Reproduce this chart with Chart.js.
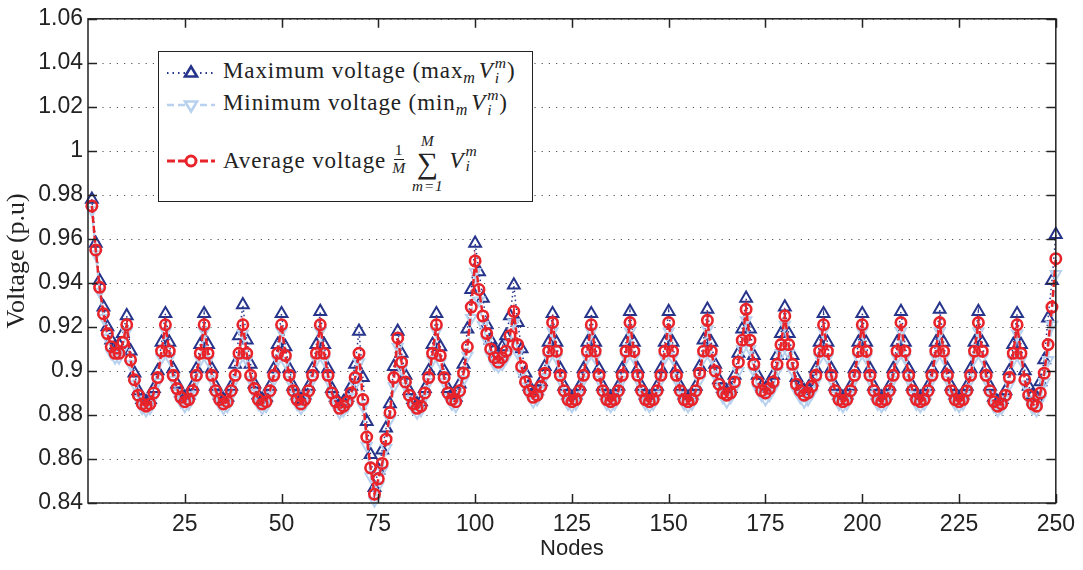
<!DOCTYPE html>
<html>
<head>
<meta charset="utf-8">
<script src="https://cdn.jsdelivr.net/npm/chart.js@4.4.1/dist/chart.umd.min.js"></script>
<style>
  html, body { margin: 0; padding: 0; background: #fff; }
  #wrap { position: relative; width: 1083px; height: 570px; overflow: hidden; }
  #c { position: absolute; left: 0; top: 0; }
  #legend {
    position: absolute; left: 158px; top: 51px; width: 373px; height: 149px;
    border: 1.5px solid #222; background: #fff;
    font-family: "Liberation Serif", "DejaVu Serif", serif; font-size: 23px; color: #222; letter-spacing: 0.9px;
  }
  .row { position: absolute; left: 6px; height: 30px; display: flex; align-items: center; white-space: nowrap; }
  .row svg { flex: none; margin-right: 6px; }
  .ss { display: inline-flex; flex-direction: column; vertical-align: middle; font-size: 0.68em; line-height: 0.95; font-style: italic; margin-left: 1px; position: relative; top: -2px; }
  .sub { font-size: 0.7em; font-style: italic; position: relative; top: 5px; margin-right: 3px; }
  .frac { display: inline-flex; flex-direction: column; align-items: center; vertical-align: middle; font-size: 0.68em; line-height: 1.05; margin: 0 6px 0 6px; position: relative; top: -2px;}
  .frac .num { border-bottom: 1px solid #222; padding: 0 1px; }
  .sum { display: inline-flex; flex-direction: column; align-items: center; vertical-align: middle; line-height: 1; margin-right: 6px; position: relative; top: 2px;}
  .sum .lim { font-size: 0.66em; font-style: italic; }
  .sum .sig { font-size: 1.3em; line-height: 1; }
  i { font-style: italic; }
</style>
</head>
<body>
<div id="wrap">
  <canvas id="c" width="1083" height="570"></canvas>
  <div id="legend">
    <div class="row" style="top:6px">
      <svg width="52" height="30"><line x1="2" y1="15" x2="50" y2="15" stroke="#27348b" stroke-width="2.2" stroke-dasharray="1.5,4"/><polygon points="26,8.5 32,18.5 20,18.5" fill="#fff" stroke="#27348b" stroke-width="2.6"/></svg>
      <span>Maximum voltage (max<span class="sub">m</span><i>V</i><span class="ss"><span>m</span><span>i</span></span>)</span>
    </div>
    <div class="row" style="top:38px">
      <svg width="52" height="30"><line x1="2" y1="15" x2="50" y2="15" stroke="#b7d1ee" stroke-width="2.5" stroke-dasharray="7,4"/><polygon points="26,21.5 32,11.5 20,11.5" fill="#fff" stroke="#b7d1ee" stroke-width="2.6"/></svg>
      <span>Minimum voltage (min<span class="sub">m</span><i>V</i><span class="ss"><span>m</span><span>i</span></span>)</span>
    </div>
    <div class="row" style="top:94px">
      <svg width="52" height="30"><line x1="2" y1="15" x2="50" y2="15" stroke="#e8232a" stroke-width="3" stroke-dasharray="8,3"/><circle cx="26" cy="15" r="5" fill="#fff" stroke="#e8232a" stroke-width="3"/></svg>
      <span style="display:inline-flex;align-items:center">Average voltage <span class="frac"><span class="num">1</span><i>M</i></span><span class="sum"><span class="lim">M</span><span class="sig">&#8721;</span><span class="lim">m=1</span></span><i>V</i><span class="ss"><span>m</span><span>i</span></span></span>
    </div>
  </div>
</div>
<script>
// ---- data ----
const nodes = Array.from({length: 250}, (_, i) => i + 1);
const xTicks = [25, 50, 75, 100, 125, 150, 175, 200, 225, 250];
const yTicks = [0.84, 0.86, 0.88, 0.90, 0.92, 0.94, 0.96, 0.98, 1.00, 1.02, 1.04, 1.06];
const yTickLabels = ['0.84','0.86','0.88','0.9','0.92','0.94','0.96','0.98','1','1.02','1.04','1.06'];

const avgV = [
 0.975,0.955,0.938,0.926,0.917,0.911,0.908,0.908,0.913,0.921,
 0.905,0.896,0.889,0.885,0.884,0.885,0.890,0.897,0.909,0.921,
 0.909,0.898,0.892,0.888,0.886,0.887,0.891,0.898,0.908,0.921,
 0.908,0.898,0.891,0.887,0.885,0.886,0.891,0.898,0.908,0.921,
 0.908,0.898,0.892,0.887,0.885,0.886,0.891,0.898,0.908,0.921,
 0.907,0.898,0.891,0.887,0.885,0.887,0.891,0.898,0.908,0.921,
 0.908,0.898,0.890,0.886,0.883,0.884,0.886,0.890,0.897,0.908,
 0.887,0.870,0.856,0.844,0.851,0.858,0.869,0.881,0.897,0.915,
 0.904,0.895,0.889,0.885,0.883,0.884,0.890,0.897,0.908,0.921,
 0.907,0.897,0.890,0.887,0.886,0.891,0.899,0.911,0.929,0.950,
 0.937,0.925,0.917,0.910,0.906,0.904,0.906,0.909,0.916,0.927,
 0.912,0.902,0.895,0.891,0.888,0.889,0.893,0.899,0.909,0.922,
 0.909,0.898,0.891,0.887,0.886,0.887,0.891,0.898,0.909,0.921,
 0.909,0.898,0.891,0.887,0.886,0.887,0.891,0.898,0.909,0.922,
 0.909,0.898,0.891,0.887,0.886,0.887,0.891,0.898,0.909,0.922,
 0.909,0.898,0.891,0.887,0.886,0.887,0.891,0.899,0.909,0.923,
 0.909,0.900,0.894,0.890,0.889,0.890,0.895,0.904,0.914,0.928,
 0.914,0.903,0.895,0.891,0.890,0.892,0.895,0.903,0.912,0.925,
 0.912,0.903,0.894,0.891,0.889,0.890,0.893,0.898,0.909,0.921,
 0.909,0.898,0.891,0.887,0.886,0.887,0.891,0.898,0.909,0.921,
 0.909,0.898,0.891,0.887,0.886,0.887,0.891,0.898,0.909,0.922,
 0.909,0.898,0.891,0.887,0.886,0.887,0.891,0.898,0.909,0.922,
 0.909,0.898,0.891,0.887,0.886,0.887,0.891,0.898,0.909,0.922,
 0.909,0.898,0.891,0.886,0.884,0.885,0.889,0.897,0.908,0.921,
 0.908,0.896,0.889,0.885,0.884,0.890,0.899,0.912,0.929,0.951
];
const maxV = [
 0.978,0.958,0.941,0.929,0.920,0.914,0.911,0.912,0.917,0.925,
 0.909,0.899,0.891,0.887,0.886,0.887,0.892,0.900,0.913,0.926,
 0.913,0.901,0.894,0.890,0.888,0.889,0.893,0.901,0.912,0.926,
 0.912,0.901,0.893,0.889,0.887,0.888,0.893,0.903,0.916,0.930,
 0.914,0.903,0.894,0.889,0.887,0.888,0.893,0.901,0.912,0.926,
 0.911,0.901,0.893,0.889,0.887,0.889,0.893,0.901,0.912,0.927,
 0.912,0.901,0.892,0.888,0.885,0.886,0.888,0.893,0.903,0.918,
 0.897,0.877,0.862,0.847,0.855,0.864,0.874,0.885,0.902,0.918,
 0.908,0.898,0.891,0.887,0.885,0.886,0.892,0.900,0.912,0.926,
 0.911,0.900,0.892,0.889,0.888,0.894,0.903,0.919,0.937,0.958,
 0.945,0.933,0.921,0.914,0.910,0.908,0.911,0.916,0.925,0.939,
 0.922,0.910,0.899,0.893,0.890,0.891,0.895,0.902,0.913,0.926,
 0.913,0.901,0.893,0.889,0.888,0.889,0.893,0.901,0.913,0.926,
 0.913,0.901,0.893,0.889,0.888,0.889,0.893,0.901,0.913,0.927,
 0.913,0.901,0.893,0.889,0.888,0.889,0.893,0.901,0.913,0.927,
 0.913,0.901,0.893,0.889,0.888,0.889,0.893,0.902,0.914,0.928,
 0.913,0.903,0.896,0.892,0.891,0.892,0.898,0.908,0.919,0.933,
 0.919,0.907,0.898,0.893,0.892,0.894,0.898,0.907,0.917,0.929,
 0.917,0.907,0.897,0.893,0.891,0.892,0.895,0.901,0.913,0.926,
 0.913,0.901,0.893,0.889,0.888,0.889,0.893,0.901,0.913,0.926,
 0.913,0.901,0.893,0.889,0.888,0.889,0.893,0.901,0.913,0.927,
 0.913,0.901,0.893,0.889,0.888,0.889,0.893,0.901,0.913,0.928,
 0.913,0.901,0.893,0.889,0.888,0.889,0.893,0.901,0.913,0.927,
 0.913,0.901,0.893,0.888,0.886,0.887,0.891,0.900,0.912,0.926,
 0.912,0.900,0.893,0.889,0.888,0.895,0.905,0.924,0.941,0.962
];
const minV = [
 0.973,0.953,0.936,0.924,0.915,0.908,0.906,0.906,0.910,0.918,
 0.903,0.894,0.887,0.883,0.882,0.883,0.888,0.895,0.906,0.918,
 0.906,0.896,0.890,0.886,0.884,0.885,0.889,0.896,0.905,0.918,
 0.905,0.896,0.889,0.885,0.883,0.884,0.889,0.896,0.905,0.917,
 0.905,0.896,0.890,0.885,0.883,0.884,0.889,0.896,0.905,0.918,
 0.904,0.896,0.889,0.885,0.883,0.885,0.889,0.896,0.905,0.918,
 0.905,0.896,0.888,0.884,0.881,0.882,0.884,0.888,0.894,0.904,
 0.884,0.866,0.852,0.841,0.848,0.855,0.865,0.878,0.893,0.911,
 0.901,0.893,0.887,0.883,0.881,0.882,0.888,0.895,0.905,0.918,
 0.904,0.895,0.888,0.885,0.884,0.889,0.896,0.907,0.924,0.945,
 0.932,0.921,0.914,0.907,0.903,0.902,0.903,0.906,0.912,0.922,
 0.908,0.899,0.893,0.889,0.886,0.887,0.891,0.897,0.906,0.918,
 0.906,0.896,0.889,0.885,0.884,0.885,0.889,0.896,0.906,0.918,
 0.906,0.896,0.889,0.885,0.884,0.885,0.889,0.896,0.906,0.918,
 0.906,0.896,0.889,0.885,0.884,0.885,0.889,0.896,0.906,0.918,
 0.906,0.896,0.889,0.885,0.884,0.885,0.889,0.896,0.906,0.919,
 0.906,0.898,0.892,0.888,0.886,0.888,0.892,0.900,0.910,0.923,
 0.910,0.900,0.892,0.889,0.887,0.889,0.892,0.900,0.908,0.921,
 0.908,0.900,0.891,0.888,0.886,0.887,0.890,0.895,0.906,0.918,
 0.906,0.896,0.889,0.885,0.884,0.885,0.889,0.896,0.906,0.918,
 0.906,0.896,0.889,0.885,0.884,0.885,0.889,0.896,0.906,0.918,
 0.906,0.896,0.889,0.885,0.884,0.885,0.889,0.896,0.906,0.918,
 0.906,0.896,0.889,0.885,0.884,0.885,0.889,0.896,0.906,0.918,
 0.906,0.896,0.889,0.884,0.882,0.883,0.887,0.894,0.905,0.917,
 0.905,0.894,0.887,0.883,0.882,0.887,0.895,0.905,0.921,0.944
];

const toXY = arr => nodes.map((n, i) => ({x: n, y: arr[i]}));

const frame = {
  id: 'frame',
  beforeDatasetsDraw(chart) {
    const {ctx, chartArea: a, scales: {y}} = chart;
    ctx.save();
    ctx.strokeStyle = '#555';
    ctx.lineWidth = 1.2;
    ctx.setLineDash([1.2, 6]);
    yTicks.forEach(v => {
      const py = Math.round(y.getPixelForValue(v)) + 0.5;
      ctx.beginPath(); ctx.moveTo(a.left, py); ctx.lineTo(a.right, py); ctx.stroke();
    });
    ctx.restore();
  },
  afterDraw(chart) {
    const {ctx, chartArea: a, scales: {x, y}} = chart;
    ctx.save();
    ctx.strokeStyle = '#222';
    ctx.lineWidth = 1.5;
    ctx.setLineDash([]);
    ctx.strokeRect(a.left, a.top, a.right - a.left, a.bottom - a.top);
    const L = 9;
    ctx.beginPath();
    xTicks.forEach(v => {
      const px = Math.round(x.getPixelForValue(v)) + 0.5;
      ctx.moveTo(px, a.bottom); ctx.lineTo(px, a.bottom - L);
      ctx.moveTo(px, a.top); ctx.lineTo(px, a.top + L);
    });
    yTicks.forEach(v => {
      const py = Math.round(y.getPixelForValue(v)) + 0.5;
      ctx.moveTo(a.left, py); ctx.lineTo(a.left + L, py);
      ctx.moveTo(a.right, py); ctx.lineTo(a.right - L, py);
    });
    ctx.stroke();
    ctx.restore();
  }
};

const sans = '"Liberation Sans", Arial, sans-serif';
const serif = '"Liberation Serif", "DejaVu Serif", serif';

new Chart(document.getElementById('c'), {
  type: 'line',
  data: {
    datasets: [
      {
        label: 'Average voltage',
        data: toXY(avgV),
        order: 1,
        borderColor: '#e8232a', borderWidth: 2.5, borderDash: [7, 3],
        pointStyle: 'circle', pointRadius: 5.2, pointBorderWidth: 2.6,
        pointBorderColor: '#e8232a', pointBackgroundColor: 'rgba(255,255,255,0)',
        tension: 0, clip: false
      },
      {
        label: 'Minimum voltage',
        data: toXY(minV),
        order: 2,
        borderColor: '#b7d1ee', borderWidth: 2, borderDash: [6, 4],
        pointStyle: 'triangle', pointRotation: 180, pointRadius: 6, pointBorderWidth: 2,
        pointBorderColor: '#b7d1ee', pointBackgroundColor: 'rgba(255,255,255,0)',
        tension: 0, clip: false
      },
      {
        label: 'Maximum voltage',
        data: toXY(maxV),
        order: 3,
        borderColor: '#27348b', borderWidth: 1.5, borderDash: [1.5, 3],
        pointStyle: 'triangle', pointRadius: 6.8, pointBorderWidth: 2,
        pointBorderColor: '#27348b', pointBackgroundColor: 'rgba(255,255,255,0)',
        tension: 0, clip: false
      }
    ]
  },
  options: {
    responsive: false,
    animation: false,
    devicePixelRatio: 1,
    layout: { padding: { top: 12, right: 26, left: 0, bottom: 0 } },
    plugins: { legend: { display: false }, tooltip: { enabled: false } },
    scales: {
      x: {
        type: 'linear', min: 0, max: 250,
        grid: { display: false, drawTicks: false }, border: { display: false },
        afterBuildTicks: s => { s.ticks = xTicks.map(v => ({value: v})); },
        afterFit: s => { s.height = 67; },
        ticks: { color: '#222', font: { family: sans, size: 23 }, padding: 8, maxRotation: 0, autoSkip: false,
                 callback: v => String(v) },
        title: { display: true, text: 'Nodes', color: '#222', font: { family: sans, size: 22, lineHeight: 1.2 },
                 padding: { top: 0, bottom: 8 } }
      },
      y: {
        type: 'linear', min: 0.84, max: 1.06,
        grid: { display: false, drawTicks: false }, border: { display: false },
        afterBuildTicks: s => { s.ticks = yTicks.map(v => ({value: v})); },
        afterFit: s => { s.width = 88; },
        ticks: { color: '#222', font: { family: sans, size: 23 }, padding: 5, autoSkip: false,
                 callback: (v, i) => yTickLabels[i] },
        title: { display: true, text: 'Voltage (p.u)', color: '#222', font: { family: serif, size: 26, lineHeight: 1.2 },
                 padding: { top: 2, bottom: 0 } }
      }
    }
  },
  plugins: [frame]
});
</script>
</body>
</html>
